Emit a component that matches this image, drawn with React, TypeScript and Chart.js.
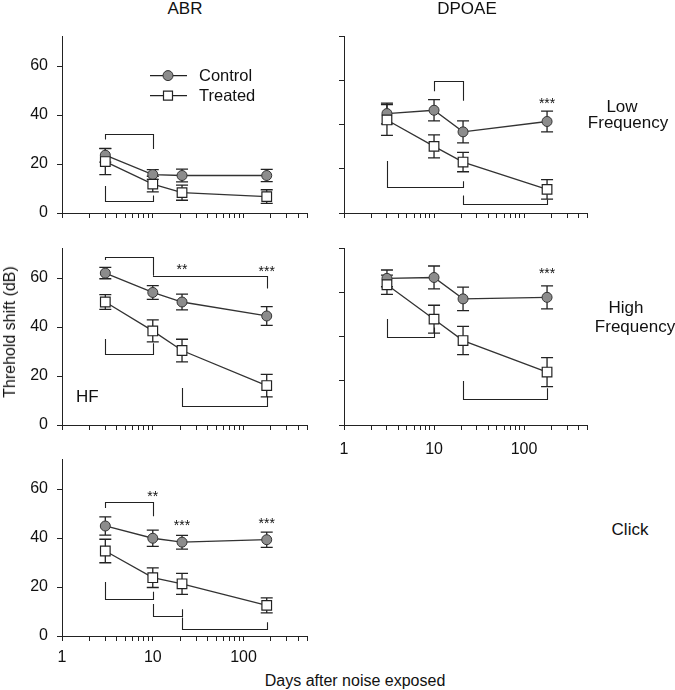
import React, { useEffect, useRef } from 'react';
import { Chart, registerables } from 'chart.js';

Chart.register(...registerables);

// ---------- data ----------
const days = [3, 10, 21, 180];
const xTickLabels = ['1', '10', '100'];
const xTickValues = [1, 2, 3, 4, 5, 6, 7, 8, 9, 10, 20, 30, 40, 50, 60, 70, 80, 90, 100, 200, 300, 400, 500];
const abrYTicks = [0, 20, 40, 60];
const dpoaeYTicks = [0, 20, 40, 60, 80];

// ABR – Low Frequency
const abrLowControl = [23.6, 15.7, 15.3, 15.3];
const abrLowControlErr = [2.8, 2.0, 2.6, 2.5];
const abrLowTreated = [21.0, 11.8, 8.3, 6.7];
const abrLowTreatedErr = [5.3, 3.2, 3.1, 2.8];
const abrLowBrackets = [
  [3, 10, 32.4, 30.0, 26.1],
  [3, 10, 5.1, 11.0, 7.1],
];
const abrLowStars: [number, number, string][] = [];

// DPOAE – Low Frequency
const dpLowControl = [45.1, 46.6, 36.8, 41.5];
const dpLowControlErr = [4.7, 4.8, 5.0, 4.7];
const dpLowTreated = [42.2, 30.2, 23.1, 10.7];
const dpLowTreatedErr = [7.0, 5.2, 4.4, 4.4];
const dpLowBrackets = [
  [10, 21, 59.9, 55.2, 50.9],
  [3, 21, 11.9, 23.6, 14.4],
  [21, 180, 3.9, 7.9, 6.1],
];
const dpLowStars: [number, number, string][] = [[180, 50.9, '***']];

// ABR – High Frequency
const abrHfControl = [62.0, 54.1, 50.2, 44.5];
const abrHfControlErr = [2.3, 2.8, 3.2, 3.8];
const abrHfTreated = [50.2, 38.4, 30.4, 16.1];
const abrHfTreatedErr = [3.0, 4.5, 4.6, 4.6];
const abrHfBrackets = [
  [3, 10, 68.6, 67.3, 61.0],
  [10, 180, 61.0, 61.0, 55.7],
  [3, 10, 29.1, 35.1, 33.4],
  [21, 180, 7.9, 15.1, 11.8],
];
const abrHfStars: [number, number, string][] = [[21, 64.8, '**'], [180, 63.9, '***']];

// DPOAE – High Frequency
const dpHfControl = [66.5, 66.9, 57.2, 57.9];
const dpHfControlErr = [3.8, 5.2, 5.3, 5.2];
const dpHfTreated = [63.6, 48.0, 38.3, 24.0];
const dpHfTreatedErr = [4.4, 6.3, 6.4, 6.6];
const dpHfBrackets = [
  [3, 10, 40.1, 48.1, 44.2],
  [21, 180, 11.9, 19.9, 16.7],
];
const dpHfStars: [number, number, string][] = [[180, 70.2, '***']];

// ABR – Click
const clickControl = [44.9, 39.9, 38.3, 39.3];
const clickControlErr = [3.7, 3.3, 2.8, 3.1];
const clickTreated = [34.7, 23.8, 21.3, 12.5];
const clickTreatedErr = [4.8, 4.0, 4.3, 3.1];
const clickBrackets = [
  [3, 10, 54.8, 52.2, 48.9],
  [3, 10, 15.1, 22.0, 18.1],
  [10, 21, 8.0, 13.1, 10.9],
  [21, 180, 3.0, 7.6, 5.6],
];
const clickStars: [number, number, string][] = [[10, 58.1, '**'], [21, 46.5, '***'], [180, 47.3, '***']];

const seriesNames = ['Control', 'Treated'];

// ---------- style ----------
const FONT = '"Liberation Sans", Arial, Helvetica, sans-serif';
const INK = '#222222';
const TEXT = '#111111';
const CONTROL_FILL = '#8c8c8c';
const CAP = 6;
const PAD_L = 50;
const PAD_T = 12;
const PAD_R = 12;
const PAD_B = 30;

type PanelCfg = {
  key: string;
  left: number;
  top: number;
  width: number;
  height: number;
  yMax: number;
  yTicks: number[];
  showY: boolean;
  showX: boolean;
  xPad: number;
  control: number[];
  controlErr: number[];
  treated: number[];
  treatedErr: number[];
  brackets: number[][];
  stars: [number, number, string][];
  legend?: boolean;
  tag?: string;
};

const panels: PanelCfg[] = [
  { key: 'abrLow', left: 62, top: 30, width: 245, height: 183, yMax: 72, yTicks: abrYTicks, showY: true, showX: false, xPad: 6,
    control: abrLowControl, controlErr: abrLowControlErr, treated: abrLowTreated, treatedErr: abrLowTreatedErr,
    brackets: abrLowBrackets, stars: abrLowStars, legend: true },
  { key: 'dpLow', left: 344, top: 30, width: 243, height: 183, yMax: 80, yTicks: dpoaeYTicks, showY: false, showX: false, xPad: 6,
    control: dpLowControl, controlErr: dpLowControlErr, treated: dpLowTreated, treatedErr: dpLowTreatedErr,
    brackets: dpLowBrackets, stars: dpLowStars },
  { key: 'abrHf', left: 62, top: 242, width: 245, height: 183, yMax: 72, yTicks: abrYTicks, showY: true, showX: false, xPad: 6,
    control: abrHfControl, controlErr: abrHfControlErr, treated: abrHfTreated, treatedErr: abrHfTreatedErr,
    brackets: abrHfBrackets, stars: abrHfStars, tag: 'HF' },
  { key: 'dpHf', left: 344, top: 242, width: 243, height: 183, yMax: 80, yTicks: dpoaeYTicks, showY: false, showX: true, xPad: 10,
    control: dpHfControl, controlErr: dpHfControlErr, treated: dpHfTreated, treatedErr: dpHfTreatedErr,
    brackets: dpHfBrackets, stars: dpHfStars },
  { key: 'click', left: 62, top: 453, width: 245, height: 183, yMax: 72, yTicks: abrYTicks, showY: true, showX: true, xPad: 7,
    control: clickControl, controlErr: clickControlErr, treated: clickTreated, treatedErr: clickTreatedErr,
    brackets: clickBrackets, stars: clickStars },
];

function drawMarker(ctx: CanvasRenderingContext2D, kind: 'circle' | 'rect', x: number, y: number) {
  ctx.beginPath();
  if (kind === 'circle') {
    ctx.arc(x, y, 5, 0, Math.PI * 2);
    ctx.fillStyle = CONTROL_FILL;
    ctx.strokeStyle = '#333333';
    ctx.lineWidth = 1;
  } else {
    ctx.rect(x - 4.5, y - 4.5, 9, 9);
    ctx.fillStyle = '#ffffff';
    ctx.strokeStyle = INK;
    ctx.lineWidth = 1.2;
  }
  ctx.fill();
  ctx.stroke();
}

function makeOverlay(p: PanelCfg) {
  return {
    id: 'overlay_' + p.key,
    beforeDatasetsDraw(chart: any) {
      const { ctx, scales } = chart;
      const xs = scales.x;
      const ys = scales.y;
      ctx.save();
      ctx.strokeStyle = INK;
      ctx.lineWidth = 1.3;
      const groups: [number[], number[]][] = [[p.control, p.controlErr], [p.treated, p.treatedErr]];
      groups.forEach(([vals, errs]) => {
        vals.forEach((v, i) => {
          const px = xs.getPixelForValue(days[i]);
          const y1 = ys.getPixelForValue(v + errs[i]);
          const y2 = ys.getPixelForValue(v - errs[i]);
          ctx.beginPath();
          ctx.moveTo(px, y1);
          ctx.lineTo(px, y2);
          ctx.moveTo(px - CAP, y1);
          ctx.lineTo(px + CAP, y1);
          ctx.moveTo(px - CAP, y2);
          ctx.lineTo(px + CAP, y2);
          ctx.stroke();
        });
      });
      ctx.restore();
    },
    afterDatasetsDraw(chart: any) {
      const { ctx, scales, chartArea } = chart;
      const xs = scales.x;
      const ys = scales.y;
      ctx.save();
      ctx.strokeStyle = INK;
      ctx.lineWidth = 1.1;
      p.brackets.forEach(([x1, x2, yb, yl, yr]) => {
        const a = Math.round(xs.getPixelForValue(x1)) + 0.5;
        const b = Math.round(xs.getPixelForValue(x2)) + 0.5;
        const yy = Math.round(ys.getPixelForValue(yb)) + 0.5;
        ctx.beginPath();
        ctx.moveTo(a, ys.getPixelForValue(yl));
        ctx.lineTo(a, yy);
        ctx.lineTo(b, yy);
        ctx.lineTo(b, ys.getPixelForValue(yr));
        ctx.stroke();
      });
      ctx.fillStyle = TEXT;
      ctx.font = `14px ${FONT}`;
      ctx.textAlign = 'center';
      ctx.textBaseline = 'alphabetic';
      p.stars.forEach(([sx, sy, s]) => {
        ctx.fillText(s, xs.getPixelForValue(sx), ys.getPixelForValue(sy) + 7.5);
      });
      if (p.tag) {
        ctx.font = `17px ${FONT}`;
        ctx.textAlign = 'left';
        ctx.textBaseline = 'middle';
        ctx.fillText(p.tag, chartArea.left + 14, chartArea.bottom - 28);
      }
      if (p.legend) {
        const lx0 = chartArea.left + 88;
        const lx1 = chartArea.left + 125;
        const mx = chartArea.left + 106;
        const tx = chartArea.left + 137;
        const rows: [number, 'circle' | 'rect'][] = [[chartArea.top + 39, 'circle'], [chartArea.top + 59, 'rect']];
        rows.forEach(([ly, kind], i) => {
          ctx.strokeStyle = INK;
          ctx.lineWidth = 1.2;
          ctx.beginPath();
          ctx.moveTo(lx0, ly);
          ctx.lineTo(lx1, ly);
          ctx.stroke();
          drawMarker(ctx, kind, mx, ly);
          ctx.fillStyle = TEXT;
          ctx.font = `16.5px ${FONT}`;
          ctx.textAlign = 'left';
          ctx.textBaseline = 'middle';
          ctx.fillText(seriesNames[i], tx, ly + 1);
        });
      }
      ctx.restore();
    },
  };
}

function PanelChart({ p }: { p: PanelCfg }) {
  const ref = useRef<HTMLCanvasElement | null>(null);
  const cw = p.width + PAD_L + PAD_R;
  const ch = p.height + PAD_T + PAD_B;
  useEffect(() => {
    if (!ref.current) return;
    const axisGrid = {
      drawOnChartArea: false,
      drawTicks: true,
      tickLength: 5,
      color: INK,
      lineWidth: 1,
    };
    const chart = new Chart(ref.current, {
      type: 'line',
      data: {
        datasets: [
          {
            label: seriesNames[0],
            data: days.map((d, i) => ({ x: d, y: p.control[i] })),
            borderColor: '#333333',
            borderWidth: 1.3,
            pointStyle: 'circle',
            pointRadius: 5,
            pointBackgroundColor: CONTROL_FILL,
            pointBorderColor: '#333333',
            pointBorderWidth: 1,
            fill: false,
            tension: 0,
            order: 1,
          },
          {
            label: seriesNames[1],
            data: days.map((d, i) => ({ x: d, y: p.treated[i] })),
            borderColor: '#333333',
            borderWidth: 1.3,
            pointStyle: 'rect',
            pointRadius: 6.8,
            pointBackgroundColor: '#ffffff',
            pointBorderColor: INK,
            pointBorderWidth: 1.2,
            fill: false,
            tension: 0,
            order: 0,
          },
        ],
      },
      options: {
        responsive: false,
        animation: false,
        devicePixelRatio: 1,
        layout: { padding: { left: 0, top: PAD_T, right: PAD_R, bottom: 0 } },
        plugins: { legend: { display: false }, tooltip: { enabled: false }, title: { display: false } },
        events: [],
        scales: {
          x: {
            type: 'logarithmic',
            min: 1,
            max: 500,
            afterBuildTicks: (s: any) => {
              s.ticks = xTickValues.map((v) => ({ value: v, major: xTickLabels.includes(String(v)) }));
            },
            afterFit: (s: any) => {
              s.height = PAD_B;
            },
            grid: axisGrid,
            border: { display: true, color: INK, width: 1 },
            ticks: {
              autoSkip: false,
              maxRotation: 0,
              minRotation: 0,
              padding: p.xPad,
              color: TEXT,
              font: { family: FONT, size: 16 },
              callback: (v: any) => (p.showX && xTickLabels.includes(String(v)) ? String(v) : ''),
            },
          },
          y: {
            type: 'linear',
            min: 0,
            max: p.yMax,
            afterBuildTicks: (s: any) => {
              s.ticks = p.yTicks.map((v) => ({ value: v }));
            },
            afterFit: (s: any) => {
              s.width = PAD_L;
            },
            grid: axisGrid,
            border: { display: true, color: INK, width: 1 },
            ticks: {
              padding: 9,
              color: TEXT,
              font: { family: FONT, size: 16 },
              callback: (v: any) => (p.showY ? String(v) : ''),
            },
          },
        },
      } as any,
      plugins: [makeOverlay(p)],
    });
    return () => chart.destroy();
  }, []);
  return (
    <canvas
      ref={ref}
      width={cw}
      height={ch}
      style={{ position: 'absolute', left: p.left - PAD_L, top: p.top - PAD_T, width: cw, height: ch }}
    />
  );
}

const labelBase: React.CSSProperties = {
  position: 'absolute',
  fontFamily: FONT,
  fontSize: 17,
  lineHeight: '17px',
  color: TEXT,
  whiteSpace: 'nowrap',
  transform: 'translateX(-50%)',
};

function Label({ text, x, y, size = 17 }: { text: string; x: number; y: number; size?: number }) {
  return (
    <div style={{ ...labelBase, left: x, top: y - size / 2, fontSize: size, lineHeight: `${size}px` }}>{text}</div>
  );
}

export default function App() {
  return (
    <div style={{ position: 'absolute', left: 0, top: 0, width: 675, height: 690, background: '#ffffff', overflow: 'hidden' }}>
      {panels.map((p) => (
        <PanelChart key={p.key} p={p} />
      ))}
      <Label text="ABR" x={185} y={8.5} />
      <Label text="DPOAE" x={467} y={8.5} />
      <Label text="Low" x={622} y={106} />
      <Label text="Frequency" x={628} y={122} />
      <Label text="High" x={626} y={307.5} />
      <Label text="Frequency" x={635} y={326} />
      <Label text="Click" x={630} y={529.5} />
      <Label text="Days after noise exposed" x={355} y={680.5} size={16} />
      <div
        style={{
          position: 'absolute',
          left: 10,
          top: 332,
          fontFamily: FONT,
          fontSize: 16,
          lineHeight: '16px',
          color: TEXT,
          whiteSpace: 'nowrap',
          transform: 'translate(-50%, -50%) rotate(-90deg)',
        }}
      >
        Threhold shift (dB)
      </div>
    </div>
  );
}
